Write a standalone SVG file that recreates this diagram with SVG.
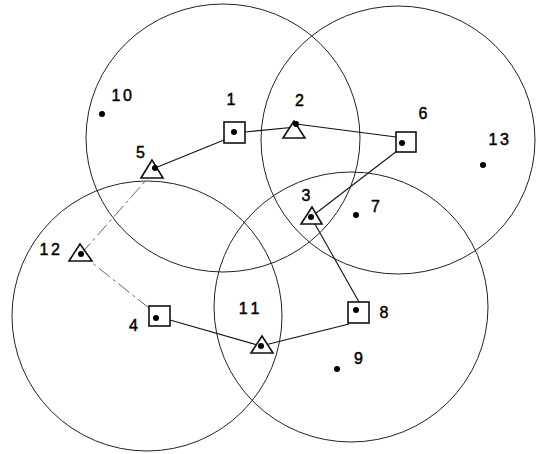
<svg xmlns="http://www.w3.org/2000/svg" width="539" height="454" viewBox="0 0 539 454">
<style>
.bg{fill:#fff}
.cir{fill:none;stroke:#222;stroke-width:1}
.edge{fill:none;stroke:#111;stroke-width:1.1}
.faint{fill:none;stroke:#555;stroke-width:0.9;stroke-dasharray:14 4 3 4}
.sq{fill:#fff;stroke:#111;stroke-width:1.6}
.tri{fill:#fff;stroke:#111;stroke-width:1.6;stroke-linejoin:miter}
.dot{fill:#000}
.lbl{font-family:"Liberation Sans",Arial,sans-serif;font-size:16px;fill:#000;stroke:#000;stroke-width:0.45;text-anchor:middle}
.ls{letter-spacing:2.5px}
.ls4{letter-spacing:4px}
</style>
<rect class="bg" x="0" y="0" width="539" height="454"/>
<g id="ranges">
<ellipse class="cir" cx="223" cy="138" rx="137" ry="134"/>
<ellipse class="cir" cx="398" cy="140" rx="137" ry="134"/>
<ellipse class="cir" cx="147" cy="316" rx="135" ry="135"/>
<ellipse class="cir" cx="351" cy="307" rx="137" ry="135"/>
</g>
<g id="connectors">
<line class="edge" x1="155" y1="168" x2="224" y2="140"/>
<line class="edge" x1="245" y1="132" x2="296" y2="127"/>
<line class="edge" x1="296" y1="124" x2="396" y2="137"/>
<line class="edge" x1="397" y1="151" x2="311" y2="217"/>
<line class="edge" x1="311" y1="217" x2="359" y2="302"/>
<line class="edge" x1="349" y1="324" x2="261" y2="346"/>
<line class="edge" x1="261" y1="346" x2="170" y2="320"/>
<line class="faint" x1="149" y1="308" x2="81" y2="254"/>
<line class="faint" x1="81" y1="254" x2="155" y2="170"/>
</g>
<g id="node1"><rect class="sq" x="224" y="122" width="21" height="21"/><circle class="dot" cx="234" cy="132" r="3"/><text class="lbl" x="231" y="105">1</text></g>
<g id="node2"><polygon class="tri" points="294,121 283,138 305,138"/><circle class="dot" cx="296" cy="124" r="3"/><text class="lbl" x="299.5" y="106">2</text></g>
<g id="node3"><polygon class="tri" points="312,207 301,224 322,224"/><circle class="dot" cx="311" cy="217" r="3"/><text class="lbl" x="306" y="201">3</text></g>
<g id="node4"><rect class="sq" x="149" y="306" width="21" height="20"/><circle class="dot" cx="156" cy="318" r="3"/><text class="lbl" x="133.5" y="331">4</text></g>
<g id="node5"><polygon class="tri" points="152,160 141,178 163,178"/><circle class="dot" cx="155" cy="168" r="3"/><text class="lbl" x="140.5" y="158">5</text></g>
<g id="node6"><rect class="sq" x="396" y="132" width="20" height="20"/><circle class="dot" cx="402" cy="143" r="3"/><text class="lbl" x="423" y="119">6</text></g>
<g id="node7"><circle class="dot" cx="356" cy="215" r="3"/><text class="lbl" x="375.5" y="212">7</text></g>
<g id="node8"><rect class="sq" x="348" y="302" width="21" height="21"/><circle class="dot" cx="356" cy="310" r="3"/><text class="lbl" x="384" y="318">8</text></g>
<g id="node9"><circle class="dot" cx="337" cy="369" r="3"/><text class="lbl" x="358.5" y="364">9</text></g>
<g id="node10"><circle class="dot" cx="102" cy="114" r="3"/><text class="lbl ls" x="123" y="101">10</text></g>
<g id="node11"><polygon class="tri" points="262,336 251,353 273,353"/><circle class="dot" cx="261" cy="346" r="3"/><text class="lbl ls4" x="251" y="314">11</text></g>
<g id="node12"><polygon class="tri" points="80,244 69,261 92,261"/><circle class="dot" cx="81" cy="254" r="3"/><text class="lbl ls" x="51" y="255">12</text></g>
<g id="node13"><circle class="dot" cx="483" cy="165" r="3"/><text class="lbl ls" x="500" y="145">13</text></g>
</svg>
